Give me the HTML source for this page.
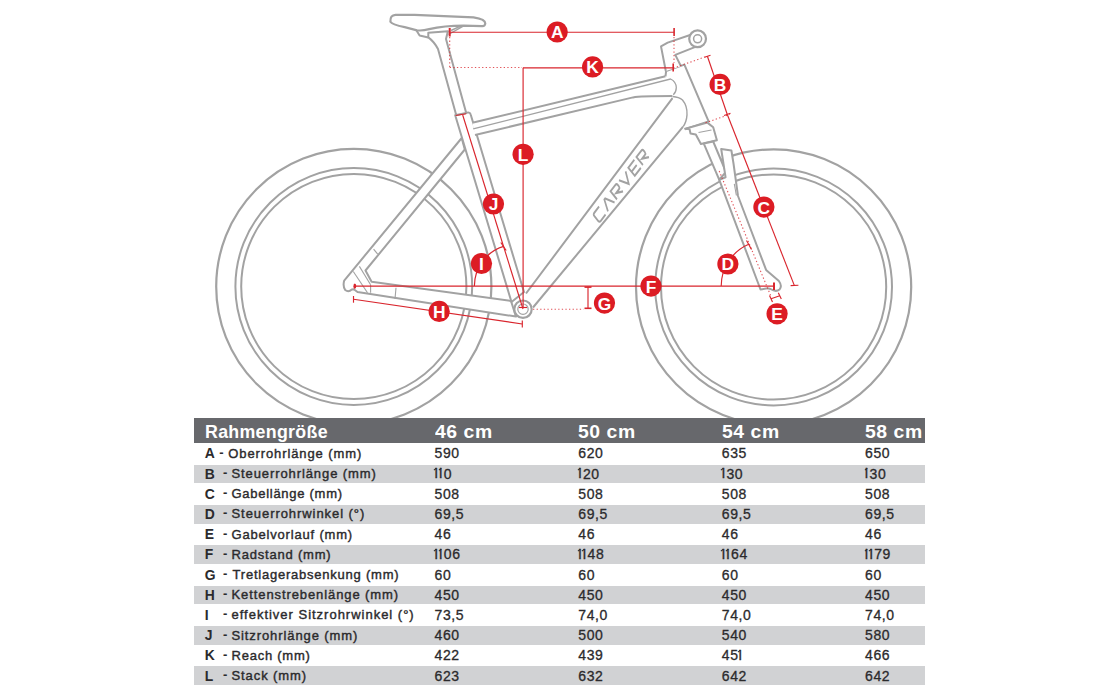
<!DOCTYPE html>
<html><head><meta charset="utf-8"><style>
html,body{margin:0;padding:0;background:#fff;}
body{width:1119px;height:689px;position:relative;overflow:hidden;font-family:"Liberation Sans",sans-serif;}
svg{position:absolute;left:0;top:0;}
.hdr{position:absolute;left:194.4px;top:418.3px;width:730.4px;height:24.3px;background:#67686c;}
.band{position:absolute;left:194.4px;width:730.4px;height:18.7px;background:#d1d2d4;}
.ht{position:absolute;font-weight:bold;line-height:0;color:#fff;white-space:pre;}
.bt{position:absolute;line-height:0;color:#2b2a2c;white-space:pre;-webkit-text-stroke:0.4px #2b2a2c;}
.bt.b{font-weight:bold;-webkit-text-stroke:0;}
.num{letter-spacing:0.6px;-webkit-text-stroke:0.3px #2b2a2c;}
.one{margin-left:-0.4px;letter-spacing:-2.79px;position:relative;color:transparent;-webkit-text-stroke:0 transparent;}
.one::before{content:"I";position:absolute;left:0;top:-0.2px;line-height:normal;letter-spacing:0;color:#2b2a2c;-webkit-text-stroke:0.3px #2b2a2c;}
.one::after{content:"";position:absolute;left:-1.1px;top:2.1px;width:2.8px;height:1.4px;background:#2b2a2c;transform:rotate(-38deg);transform-origin:100% 0;}
</style></head><body>
<svg width="1119" height="689" viewBox="0 0 1119 689">
<circle cx="353.8" cy="286.5" r="137.6" fill="none" stroke="#a2a2a2" stroke-width="2.2"/>
<circle cx="353.8" cy="286.5" r="118.4" fill="none" stroke="#a2a2a2" stroke-width="2"/>
<circle cx="353.8" cy="286.5" r="112.6" fill="none" stroke="#a2a2a2" stroke-width="2"/>
<circle cx="773.6" cy="287" r="137.6" fill="none" stroke="#a2a2a2" stroke-width="2.2"/>
<circle cx="773.6" cy="287" r="118.4" fill="none" stroke="#a2a2a2" stroke-width="2"/>
<circle cx="773.6" cy="287" r="112.6" fill="none" stroke="#a2a2a2" stroke-width="2"/>
<path d="M516,316.6 L357.5,292 L353.8,289.3 L351.8,289.6 Q348.5,292.6 345.2,290 Q342.6,286 344.2,280.6 L461.7,138 L464.8,149.5 L365.5,270.5 L371.6,281.7 L511,301 Z" fill="#fff" stroke="#a2a2a2" stroke-width="2.0" stroke-linejoin="round"/>
<line x1="353.3" y1="271.5" x2="367.5" y2="292.8" stroke="#a2a2a2" stroke-width="1.1"/>
<line x1="359.4" y1="266.4" x2="370.6" y2="284.7" stroke="#a2a2a2" stroke-width="1.1"/>
<line x1="373.6" y1="249.1" x2="377.7" y2="254.2" stroke="#a2a2a2" stroke-width="1.1"/>
<line x1="396" y1="287.8" x2="395" y2="299" stroke="#a2a2a2" stroke-width="1.1"/>
<line x1="370.6" y1="284.7" x2="370.6" y2="292.8" stroke="#a2a2a2" stroke-width="1.1"/>
<path d="M455.2,115.2 L467.5,112.6 Q470,112 470.6,114.3 L524,292 L511.5,302 Z" fill="#fff" stroke="#a2a2a2" stroke-width="2.0" stroke-linejoin="round"/>
<polygon points="526,293.5 673,97.5 683.1,126.7 533,307.5" fill="#fff" stroke="none"/>
<path d="M526,293.5 L672.7,97.9 M533,307.5 L683.1,126.7" fill="none" stroke="#a2a2a2" stroke-width="2.0" stroke-linejoin="round"/>
<path d="M472.3,122.8 L665.5,76.3 L673,96 L633,97.4 L475,135 Z" fill="#fff" stroke="none"/>
<path d="M472.3,122.8 L665.5,76.3 M475,135 L633,97.4 Q640,96 672.7,96" fill="none" stroke="#a2a2a2" stroke-width="2.0" stroke-linejoin="round"/>
<path d="M665.5,76.3 L666.1,71.1 L684.4,64.6 L708.6,121.4 L685.1,129.3 L683.1,126.7 L672.7,97.9 L672.7,96 Z" fill="#fff" stroke="none"/>
<path d="M665.5,76.3 L666.1,71.1 L684.4,64.6 L708.6,121.4 L685.1,129.3" fill="none" stroke="#a2a2a2" stroke-width="2.0" stroke-linejoin="round"/>
<path d="M473.2,128.9 L670.5,79 Q676,81.5 676.3,87.5 Q676.3,92 673.3,94.8" fill="none" stroke="#a2a2a2" stroke-width="1.3"/>
<path d="M672.7,96.5 Q679,97 682.5,100 Q687.5,106 687,114.9 Q686.5,122 683.1,126.7" fill="none" stroke="#a2a2a2" stroke-width="1.4"/>
<circle cx="523" cy="309.2" r="8.7" fill="#fff" stroke="#a2a2a2" stroke-width="2.2"/>
<circle cx="523" cy="309.2" r="5.2" fill="none" stroke="#a2a2a2" stroke-width="1.2"/>
<path d="M428.3,32.8 L447.9,31.2 L446,39 L466.2,113 L456.2,115 L438,49 Q434,41.5 428.3,37.4 Z" fill="#fff" stroke="#a2a2a2" stroke-width="2.0" stroke-linejoin="round"/>
<path d="M416.5,30.4 L419.6,35.5 L428.3,37.4" fill="none" stroke="#a2a2a2" stroke-width="2.0" stroke-linejoin="round"/>
<path d="M448.5,34.5 L463.7,25.8 M451,30.5 L461,25.8" fill="none" stroke="#a2a2a2" stroke-width="1.4"/>
<path d="M390.4,21.7 Q390,15 395.5,14.8 L414.5,14.8 Q444,16 473.5,17.3 Q485.5,19 485.3,23.5 Q485,26.3 482,26.1 L463.7,25.6 Q444,25.6 429.2,29.1 Q422,31 417,30.3 L404.7,27.1 Q392,24.5 390.4,21.7 Z" fill="#fff" stroke="#a2a2a2" stroke-width="2.2"/>
<path d="M665.8,71 L661,46.4 L667.7,42.6 L692.3,34.2 L703.6,43.6 L675.3,54.9 L681,66.2" fill="#fff" stroke="#a2a2a2" stroke-width="2.0" stroke-linejoin="round"/>
<circle cx="697.6" cy="38.8" r="8.4" fill="#fff" stroke="#a2a2a2" stroke-width="2.2"/>
<circle cx="697.6" cy="38.8" r="4.0" fill="none" stroke="#a2a2a2" stroke-width="1.5"/>
<polygon points="685.1,128.8 707.4,122.6 713.2,127.3 716.9,140.3 700.9,144 695.8,134.5 690.5,133.5 689.5,129" fill="#fff" stroke="#a2a2a2" stroke-width="2.0" stroke-linejoin="round"/>
<line x1="698.5" y1="132.5" x2="711.5" y2="130" stroke="#a2a2a2" stroke-width="1.1"/>
<polygon points="703.8,143.6 713.2,141.5 726,172 719.2,179.7" fill="#fff" stroke="#a2a2a2" stroke-width="2.0" stroke-linejoin="round"/>
<path d="M721.2,149 L731.4,150.5 L733.5,163.5 L738,196 L766.1,269.9 L778.9,281 Q782.5,286 779.5,289.5 Q776,292.5 770.5,289 L767.6,288.3 L760.5,289.5 L719.2,179.7 L725.6,177.3 Z" fill="#fff" stroke="#a2a2a2" stroke-width="2.0" stroke-linejoin="round"/>
<line x1="734.3" y1="183.9" x2="736.4" y2="195.5" stroke="#a2a2a2" stroke-width="1.1"/>
<line x1="449.7" y1="32.2" x2="674.1" y2="32.2" stroke="#d9252d" stroke-width="1.15"/>
<line x1="449.7" y1="28" x2="449.7" y2="36.5" stroke="#d9252d" stroke-width="2"/>
<line x1="674.1" y1="28" x2="674.1" y2="36" stroke="#d9252d" stroke-width="1.6"/>
<line x1="449.7" y1="37" x2="449.7" y2="67.5" stroke="#d9252d" stroke-width="1.1" stroke-dasharray="1.3 2.3" stroke-opacity="0.8"/>
<line x1="449.7" y1="67.5" x2="522" y2="67.5" stroke="#d9252d" stroke-width="1.1" stroke-dasharray="1.3 2.3" stroke-opacity="0.8"/>
<line x1="523" y1="67.8" x2="673.2" y2="67.8" stroke="#d9252d" stroke-width="1.15"/>
<line x1="673.2" y1="63.5" x2="673.2" y2="71.4" stroke="#d9252d" stroke-width="1.6"/>
<line x1="674" y1="37" x2="674" y2="63" stroke="#d9252d" stroke-width="1.1" stroke-dasharray="1.3 2.3" stroke-opacity="0.8"/>
<line x1="523.1" y1="67.8" x2="523.1" y2="307.5" stroke="#d9252d" stroke-width="1.15"/>
<line x1="519" y1="307.5" x2="527" y2="307.5" stroke="#d9252d" stroke-width="1.15"/>
<line x1="462.7" y1="115" x2="523" y2="309" stroke="#d9252d" stroke-width="1.15"/>
<line x1="455.7" y1="115.5" x2="466.2" y2="113.8" stroke="#d9252d" stroke-width="1.15"/>
<path d="M474.4,286 A41.5,41.5 0 0 1 503.6,246.4" fill="none" stroke="#d9252d" stroke-width="1.15"/>
<line x1="500.8" y1="242.5" x2="506.2" y2="250.5" stroke="#d9252d" stroke-width="1.15"/>
<line x1="353.5" y1="299.2" x2="522.3" y2="324" stroke="#d9252d" stroke-width="1.15"/>
<line x1="353.5" y1="296" x2="353.5" y2="302.7" stroke="#d9252d" stroke-width="1.15"/>
<line x1="522.3" y1="320.5" x2="522.3" y2="327.5" stroke="#d9252d" stroke-width="1.15"/>
<line x1="354.4" y1="286.1" x2="774" y2="286.1" stroke="#d9252d" stroke-width="1.15"/>
<ellipse cx="354.8" cy="286.2" rx="1.4" ry="2.7" fill="#d9252d"/>
<line x1="774" y1="282.5" x2="774" y2="290" stroke="#d9252d" stroke-width="2"/>
<line x1="588" y1="287.1" x2="588" y2="308.3" stroke="#d9252d" stroke-width="1.15"/>
<line x1="584.5" y1="287.1" x2="591.5" y2="287.1" stroke="#d9252d" stroke-width="1.6"/>
<line x1="584.5" y1="308.3" x2="591.5" y2="308.3" stroke="#d9252d" stroke-width="1.6"/>
<line x1="533" y1="309.2" x2="583.6" y2="309.2" stroke="#d9252d" stroke-width="1.1" stroke-dasharray="1.3 2.3" stroke-opacity="0.8"/>
<line x1="707.4" y1="56.3" x2="727.2" y2="114.3" stroke="#d9252d" stroke-width="1.15"/>
<line x1="704.5" y1="57.3" x2="710.5" y2="55.3" stroke="#d9252d" stroke-width="1.15"/>
<line x1="727.2" y1="114.3" x2="794.3" y2="285.4" stroke="#d9252d" stroke-width="1.15"/>
<line x1="724" y1="115.5" x2="730.5" y2="113.2" stroke="#d9252d" stroke-width="1.15"/>
<line x1="790.6" y1="285.6" x2="798.4" y2="285.2" stroke="#d9252d" stroke-width="1.15"/>
<line x1="673.4" y1="68.1" x2="705.5" y2="56.8" stroke="#d9252d" stroke-width="1.1" stroke-dasharray="1.3 2.3" stroke-opacity="0.8"/>
<line x1="705.5" y1="122.8" x2="730" y2="114.3" stroke="#d9252d" stroke-width="1.1" stroke-dasharray="1.3 2.3" stroke-opacity="0.8"/>
<path d="M721.2,286 A45.5,45.5 0 0 1 749.3,244" fill="none" stroke="#d9252d" stroke-width="1.15"/>
<line x1="746.5" y1="240.5" x2="751.5" y2="249.5" stroke="#d9252d" stroke-width="1.15"/>
<line x1="771" y1="298.7" x2="779.8" y2="295.8" stroke="#d9252d" stroke-width="1.15"/>
<line x1="769.5" y1="295.5" x2="772.5" y2="302" stroke="#d9252d" stroke-width="1.15"/>
<line x1="778.3" y1="292.8" x2="781.3" y2="299" stroke="#d9252d" stroke-width="1.15"/>
<line x1="719.2" y1="171" x2="771" y2="296.4" stroke="#d9252d" stroke-width="1.1" stroke-dasharray="1.3 2.3" stroke-opacity="0.8"/>
<circle cx="557.2" cy="32" r="10.6" fill="#dc1c24"/>
<text x="557.2" y="38.4" text-anchor="middle" font-family="Liberation Sans" font-weight="bold" font-size="17.4" fill="#fff">A</text>
<circle cx="592.6" cy="66.9" r="10.6" fill="#dc1c24"/>
<text x="592.6" y="73.30000000000001" text-anchor="middle" font-family="Liberation Sans" font-weight="bold" font-size="17.4" fill="#fff">K</text>
<circle cx="523.1" cy="154.3" r="10.6" fill="#dc1c24"/>
<text x="523.1" y="160.70000000000002" text-anchor="middle" font-family="Liberation Sans" font-weight="bold" font-size="17.4" fill="#fff">L</text>
<circle cx="493.5" cy="204" r="10.6" fill="#dc1c24"/>
<text x="493.5" y="210.4" text-anchor="middle" font-family="Liberation Sans" font-weight="bold" font-size="17.4" fill="#fff">J</text>
<circle cx="481.5" cy="263.5" r="10.6" fill="#dc1c24"/>
<text x="481.5" y="269.9" text-anchor="middle" font-family="Liberation Sans" font-weight="bold" font-size="17.4" fill="#fff">I</text>
<circle cx="439.2" cy="311.4" r="10.6" fill="#dc1c24"/>
<text x="439.2" y="317.79999999999995" text-anchor="middle" font-family="Liberation Sans" font-weight="bold" font-size="17.4" fill="#fff">H</text>
<circle cx="651" cy="286.1" r="10.6" fill="#dc1c24"/>
<text x="651" y="292.5" text-anchor="middle" font-family="Liberation Sans" font-weight="bold" font-size="17.4" fill="#fff">F</text>
<circle cx="604.5" cy="303.1" r="10.6" fill="#dc1c24"/>
<text x="604.5" y="309.5" text-anchor="middle" font-family="Liberation Sans" font-weight="bold" font-size="17.4" fill="#fff">G</text>
<circle cx="720.1" cy="84.4" r="10.6" fill="#dc1c24"/>
<text x="720.1" y="90.80000000000001" text-anchor="middle" font-family="Liberation Sans" font-weight="bold" font-size="17.4" fill="#fff">B</text>
<circle cx="763.9" cy="207.1" r="10.6" fill="#dc1c24"/>
<text x="763.9" y="213.5" text-anchor="middle" font-family="Liberation Sans" font-weight="bold" font-size="17.4" fill="#fff">C</text>
<circle cx="727.9" cy="264" r="10.6" fill="#dc1c24"/>
<text x="727.9" y="270.4" text-anchor="middle" font-family="Liberation Sans" font-weight="bold" font-size="17.4" fill="#fff">D</text>
<circle cx="777.1" cy="313.8" r="10.6" fill="#dc1c24"/>
<text x="777.1" y="320.2" text-anchor="middle" font-family="Liberation Sans" font-weight="bold" font-size="17.4" fill="#fff">E</text>
<g transform="translate(599.5,222.5) rotate(-52.9) skewX(-14)" fill="none" stroke="#a2a2a2" stroke-width="1.9" stroke-linejoin="miter" stroke-linecap="butt"><path transform="translate(0,0)" d="M10,-10 H2 Q0,-10 0,-8 V-2 Q0,0 2,0 H10"/><path transform="translate(14,0)" d="M0,0 L4.8,-10 H6.2 L11,0"/><path transform="translate(29,0)" d="M0,0 V-10 H8 Q10,-10 10,-8 V-6.5 Q10,-4.5 8,-4.5 H3.5 L10,0"/><path transform="translate(43,0)" d="M0,-10 L5.5,0 L11,-10"/><path transform="translate(58.5,0)" d="M10,-10 H0 V0 H10 M1,-5 H8.5"/><path transform="translate(72,0)" d="M0,0 V-10 H8 Q10,-10 10,-8 V-6.5 Q10,-4.5 8,-4.5 H3.5 L10,0"/></g>
</svg>
<div class="hdr"></div>
<div class="band" style="top:464.50px"></div>
<div class="band" style="top:504.85px"></div>
<div class="band" style="top:545.20px"></div>
<div class="band" style="top:585.55px"></div>
<div class="band" style="top:625.90px"></div>
<div class="band" style="top:666.25px"></div>
<div class="ht" style="left:205px;top:432.13px;font-size:17.8px;letter-spacing:0.3px">Rahmengröße</div>
<div class="ht" style="left:434.6px;top:432.13px;font-size:17.8px;letter-spacing:0.5px;transform:scaleX(1.09);transform-origin:0 0">46 cm</div>
<div class="ht" style="left:578.3px;top:432.13px;font-size:17.8px;letter-spacing:0.5px;transform:scaleX(1.09);transform-origin:0 0">50 cm</div>
<div class="ht" style="left:721.8px;top:432.13px;font-size:17.8px;letter-spacing:0.5px;transform:scaleX(1.09);transform-origin:0 0">54 cm</div>
<div class="ht" style="left:865.0px;top:432.13px;font-size:17.8px;letter-spacing:0.5px;transform:scaleX(1.09);transform-origin:0 0">58 cm</div>
<div class="bt b" style="left:204.8px;top:453.48px;font-size:13.9px;">A</div>
<div class="bt b" style="left:219.3px;top:452.80px;font-size:13px;">-</div>
<div class="bt" style="left:228.3px;top:453.80px;font-size:13px;letter-spacing:0.894px">Oberrohrlänge (mm)</div>
<div class="bt num" style="left:434.6px;top:453.45px;font-size:14px;">590</div>
<div class="bt num" style="left:578.3px;top:453.45px;font-size:14px;">620</div>
<div class="bt num" style="left:721.8px;top:453.45px;font-size:14px;">635</div>
<div class="bt num" style="left:865.0px;top:453.45px;font-size:14px;">650</div>
<div class="bt b" style="left:204.8px;top:473.68px;font-size:13.9px;">B</div>
<div class="bt b" style="left:222.9px;top:473.00px;font-size:13px;">-</div>
<div class="bt" style="left:231.5px;top:474.00px;font-size:13px;letter-spacing:0.902px">Steuerrohrlänge (mm)</div>
<div class="bt num" style="left:434.6px;top:473.65px;font-size:14px;"><span class="one">1</span><span class="one">1</span>0</div>
<div class="bt num" style="left:578.3px;top:473.65px;font-size:14px;"><span class="one">1</span>20</div>
<div class="bt num" style="left:721.8px;top:473.65px;font-size:14px;"><span class="one">1</span>30</div>
<div class="bt num" style="left:865.0px;top:473.65px;font-size:14px;"><span class="one">1</span>30</div>
<div class="bt b" style="left:204.8px;top:493.88px;font-size:13.9px;">C</div>
<div class="bt b" style="left:222.9px;top:493.20px;font-size:13px;">-</div>
<div class="bt" style="left:231.5px;top:494.20px;font-size:13px;letter-spacing:0.72px">Gabellänge (mm)</div>
<div class="bt num" style="left:434.6px;top:493.85px;font-size:14px;">508</div>
<div class="bt num" style="left:578.3px;top:493.85px;font-size:14px;">508</div>
<div class="bt num" style="left:721.8px;top:493.85px;font-size:14px;">508</div>
<div class="bt num" style="left:865.0px;top:493.85px;font-size:14px;">508</div>
<div class="bt b" style="left:204.8px;top:514.08px;font-size:13.9px;">D</div>
<div class="bt b" style="left:222.9px;top:513.40px;font-size:13px;">-</div>
<div class="bt" style="left:231.5px;top:514.40px;font-size:13px;letter-spacing:0.933px">Steuerrohrwinkel (°)</div>
<div class="bt num" style="left:434.6px;top:514.05px;font-size:14px;">69,5</div>
<div class="bt num" style="left:578.3px;top:514.05px;font-size:14px;">69,5</div>
<div class="bt num" style="left:721.8px;top:514.05px;font-size:14px;">69,5</div>
<div class="bt num" style="left:865.0px;top:514.05px;font-size:14px;">69,5</div>
<div class="bt b" style="left:204.8px;top:534.28px;font-size:13.9px;">E</div>
<div class="bt b" style="left:222.9px;top:533.60px;font-size:13px;">-</div>
<div class="bt" style="left:231.5px;top:534.60px;font-size:13px;letter-spacing:0.814px">Gabelvorlauf (mm)</div>
<div class="bt num" style="left:434.6px;top:534.25px;font-size:14px;">46</div>
<div class="bt num" style="left:578.3px;top:534.25px;font-size:14px;">46</div>
<div class="bt num" style="left:721.8px;top:534.25px;font-size:14px;">46</div>
<div class="bt num" style="left:865.0px;top:534.25px;font-size:14px;">46</div>
<div class="bt b" style="left:204.8px;top:554.48px;font-size:13.9px;">F</div>
<div class="bt b" style="left:222.9px;top:553.80px;font-size:13px;">-</div>
<div class="bt" style="left:231.5px;top:554.80px;font-size:13px;letter-spacing:0.795px">Radstand (mm)</div>
<div class="bt num" style="left:434.6px;top:554.45px;font-size:14px;"><span class="one">1</span><span class="one">1</span>06</div>
<div class="bt num" style="left:578.3px;top:554.45px;font-size:14px;"><span class="one">1</span><span class="one">1</span>48</div>
<div class="bt num" style="left:721.8px;top:554.45px;font-size:14px;"><span class="one">1</span><span class="one">1</span>64</div>
<div class="bt num" style="left:865.0px;top:554.45px;font-size:14px;"><span class="one">1</span><span class="one">1</span>79</div>
<div class="bt b" style="left:204.8px;top:574.68px;font-size:13.9px;">G</div>
<div class="bt b" style="left:222.9px;top:574.00px;font-size:13px;">-</div>
<div class="bt" style="left:232.6px;top:575.00px;font-size:13px;letter-spacing:0.77px">Tretlagerabsenkung (mm)</div>
<div class="bt num" style="left:434.6px;top:574.65px;font-size:14px;">60</div>
<div class="bt num" style="left:578.3px;top:574.65px;font-size:14px;">60</div>
<div class="bt num" style="left:721.8px;top:574.65px;font-size:14px;">60</div>
<div class="bt num" style="left:865.0px;top:574.65px;font-size:14px;">60</div>
<div class="bt b" style="left:204.8px;top:594.88px;font-size:13.9px;">H</div>
<div class="bt b" style="left:222.9px;top:594.20px;font-size:13px;">-</div>
<div class="bt" style="left:231.5px;top:595.20px;font-size:13px;letter-spacing:0.906px">Kettenstrebenlänge (mm)</div>
<div class="bt num" style="left:434.6px;top:594.85px;font-size:14px;">450</div>
<div class="bt num" style="left:578.3px;top:594.85px;font-size:14px;">450</div>
<div class="bt num" style="left:721.8px;top:594.85px;font-size:14px;">450</div>
<div class="bt num" style="left:865.0px;top:594.85px;font-size:14px;">450</div>
<div class="bt b" style="left:204.8px;top:615.08px;font-size:13.9px;">I</div>
<div class="bt b" style="left:222.9px;top:614.40px;font-size:13px;">-</div>
<div class="bt" style="left:231.5px;top:615.40px;font-size:13px;letter-spacing:0.988px">effektiver Sitzrohrwinkel (°)</div>
<div class="bt num" style="left:434.6px;top:615.05px;font-size:14px;">73,5</div>
<div class="bt num" style="left:578.3px;top:615.05px;font-size:14px;">74,0</div>
<div class="bt num" style="left:721.8px;top:615.05px;font-size:14px;">74,0</div>
<div class="bt num" style="left:865.0px;top:615.05px;font-size:14px;">74,0</div>
<div class="bt b" style="left:204.8px;top:635.28px;font-size:13.9px;">J</div>
<div class="bt b" style="left:222.9px;top:634.60px;font-size:13px;">-</div>
<div class="bt" style="left:231.5px;top:635.60px;font-size:13px;letter-spacing:0.899px">Sitzrohrlänge (mm)</div>
<div class="bt num" style="left:434.6px;top:635.25px;font-size:14px;">460</div>
<div class="bt num" style="left:578.3px;top:635.25px;font-size:14px;">500</div>
<div class="bt num" style="left:721.8px;top:635.25px;font-size:14px;">540</div>
<div class="bt num" style="left:865.0px;top:635.25px;font-size:14px;">580</div>
<div class="bt b" style="left:204.8px;top:655.48px;font-size:13.9px;">K</div>
<div class="bt b" style="left:222.9px;top:654.80px;font-size:13px;">-</div>
<div class="bt" style="left:231.5px;top:655.80px;font-size:13px;letter-spacing:0.759px">Reach (mm)</div>
<div class="bt num" style="left:434.6px;top:655.45px;font-size:14px;">422</div>
<div class="bt num" style="left:578.3px;top:655.45px;font-size:14px;">439</div>
<div class="bt num" style="left:721.8px;top:655.45px;font-size:14px;">45<span class="one">1</span></div>
<div class="bt num" style="left:865.0px;top:655.45px;font-size:14px;">466</div>
<div class="bt b" style="left:204.8px;top:675.68px;font-size:13.9px;">L</div>
<div class="bt b" style="left:222.9px;top:675.00px;font-size:13px;">-</div>
<div class="bt" style="left:231.5px;top:676.00px;font-size:13px;letter-spacing:0.914px">Stack (mm)</div>
<div class="bt num" style="left:434.6px;top:675.65px;font-size:14px;">623</div>
<div class="bt num" style="left:578.3px;top:675.65px;font-size:14px;">632</div>
<div class="bt num" style="left:721.8px;top:675.65px;font-size:14px;">642</div>
<div class="bt num" style="left:865.0px;top:675.65px;font-size:14px;">642</div>
</body></html>
